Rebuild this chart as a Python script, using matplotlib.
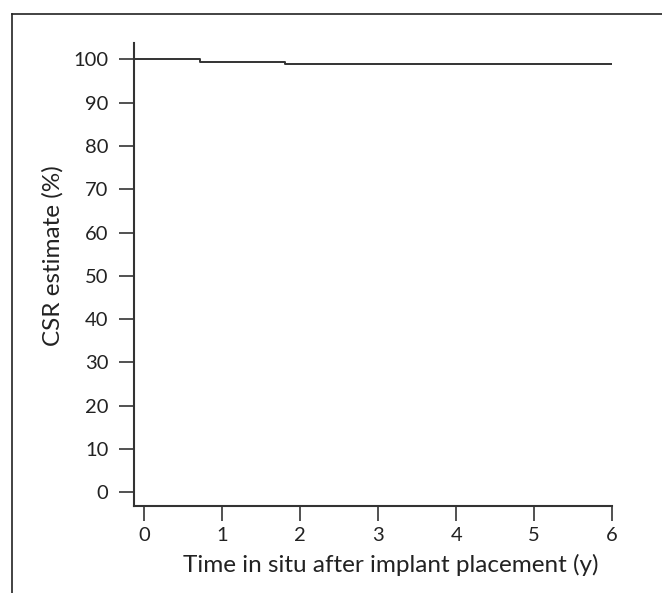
import matplotlib
matplotlib.use("Agg")
import matplotlib.pyplot as plt
from matplotlib.lines import Line2D

# ---------- Data ----------
step_times = [-0.14, 0.71, 1.80, 6.0]     # years
csr_values = [100.0, 99.45, 99.0, 99.0]   # CSR estimate (%)
x_ticks = [0, 1, 2, 3, 4, 5, 6]
y_ticks = [0, 10, 20, 30, 40, 50, 60, 70, 80, 90, 100]

plt.rcParams['font.family'] = ['Lato', 'DejaVu Sans']
ink = "#333333"

fig = plt.figure(figsize=(6.62, 5.93), dpi=100)
ax = fig.add_axes([0.2017, 0.1472, 0.7228, 0.7803])

ax.step(step_times, csr_values, where="post", color=ink, linewidth=1.4)

ax.set_xlim(-0.14, 6.0)
ax.set_ylim(-3.1, 103.8)
ax.set_xticks(x_ticks)
ax.set_yticks(y_ticks)
ax.tick_params(direction="out", length=11, width=1.2, color=ink,
               labelsize=14.5, labelcolor="#222222")
ax.tick_params(axis="y", pad=7)
ax.tick_params(axis="x", pad=4)

for side in ["top", "right"]:
    ax.spines[side].set_visible(False)
for side in ["left", "bottom"]:
    ax.spines[side].set_color(ink)
    ax.spines[side].set_linewidth(1.5)

# axis labels (placed to match reference offsets)
ax.set_xlabel("Time in situ after implant placement (y)", fontsize=17.5, color="#222222")
ax.set_ylabel("CSR estimate (%)", fontsize=17.5, color="#222222")
ax.xaxis.label.set_va("center")
ax.yaxis.label.set_va("center")
ax.xaxis.set_label_coords(0.538, -0.128)
ax.yaxis.set_label_coords(-0.168, 0.540)

# ---------- Outer frame (top and left only) ----------
fx = 11.5 / 662
fy = 1 - 13.5 / 593
fig.add_artist(Line2D([fx, 1.0], [fy, fy], transform=fig.transFigure, color="#222222", linewidth=1.2))
fig.add_artist(Line2D([fx, fx], [fy, 0.0], transform=fig.transFigure, color="#222222", linewidth=1.2))

fig.savefig("out.png", dpi=100)
